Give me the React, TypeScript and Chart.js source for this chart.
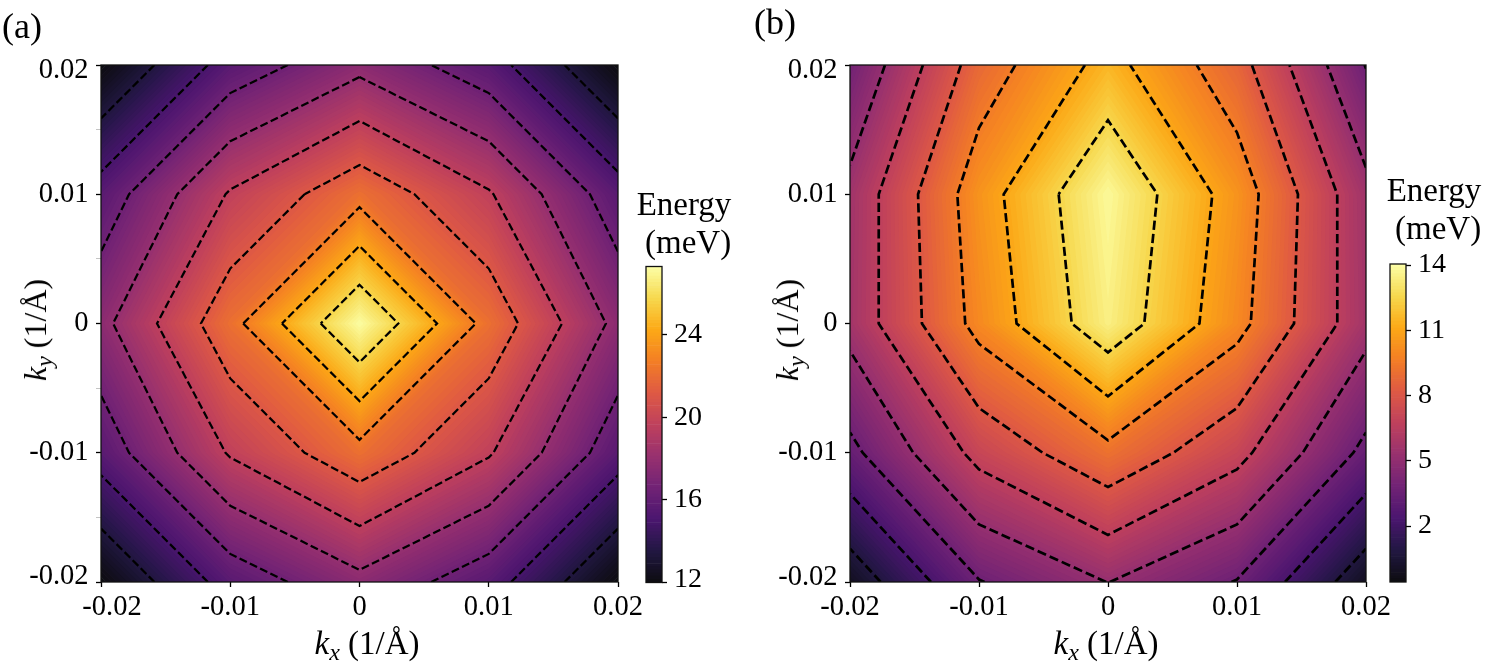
import React, { useEffect, useRef } from "react";
import { Chart, registerables } from "chart.js";

Chart.register(...registerables);

// Grid axes (1/Å)
const kxValues = [-0.02, -0.01, 0, 0.01, 0.02];
const kyValues = [-0.02, -0.01, 0, 0.01, 0.02];

// Panel (a) energy (meV), one row per ky, bottom to top
const energyA_kyM02 = [12, 15.7, 17.7, 15.7, 12];
const energyA_kyM01 = [15.7, 19.8, 22.2, 19.8, 15.7];
const energyA_ky00 = [17.7, 22.2, 27.3, 22.2, 17.7];
const energyA_kyP01 = [15.7, 19.8, 22.2, 19.8, 15.7];
const energyA_kyP02 = [12, 15.7, 17.7, 15.7, 12];

// Panel (b) energy (meV), one row per ky, bottom to top
const energyB_kyM02 = [0, 3.75, 5.3, 3.75, 0];
const energyB_kyM01 = [3.45, 7.18, 9.25, 7.18, 3.45];
const energyB_ky00 = [5.77, 10.13, 13.55, 10.13, 5.77];
const energyB_kyP01 = [5.67, 10.47, 13.9, 10.47, 5.67];
const energyB_kyP02 = [3.93, 8.9, 11.61, 8.78, 3.76];

const rangeA = [12, 27.3];
const rangeB = [-0.57, 14.05];
const cbarTicksA = [12, 16, 20, 24];
const cbarTicksB = [2, 5, 8, 11, 14];
const contourCount = 10;
const bandCount = 100;

// inferno colormap anchors
const inferno = [
  [0, 0, 4], [22, 11, 57], [66, 10, 104], [106, 23, 110], [147, 38, 103], [188, 55, 84],
  [221, 81, 58], [243, 120, 25], [252, 165, 10], [246, 215, 70], [252, 255, 164],
];
const FADE = 0.95;

const FONT = '"Liberation Serif", "Times New Roman", serif';

function colorAt(t: number) {
  const p = Math.max(0, Math.min(1, t)) * (inferno.length - 1);
  const i = Math.min(inferno.length - 2, Math.floor(p));
  const f = p - i;
  const c = inferno[i].map((v, k) => v + (inferno[i + 1][k] - v) * f);
  const m = c.map((v) => Math.round(v * FADE + 255 * (1 - FADE)));
  return `rgb(${m[0]},${m[1]},${m[2]})`;
}

function levelsOf(range: number[], n: number) {
  const out: number[] = [];
  for (let i = 0; i <= n; i++) out.push(range[0] + ((range[1] - range[0]) * i) / n);
  return out;
}

type Corner = { x: number; y: number; v: number };

function cellsOf(grid: number[][]) {
  const cells: Corner[][] = [];
  for (let j = 0; j < kyValues.length - 1; j++) {
    for (let i = 0; i < kxValues.length - 1; i++) {
      cells.push([
        { x: kxValues[i], y: kyValues[j], v: grid[j][i] },
        { x: kxValues[i + 1], y: kyValues[j], v: grid[j][i + 1] },
        { x: kxValues[i + 1], y: kyValues[j + 1], v: grid[j + 1][i + 1] },
        { x: kxValues[i], y: kyValues[j + 1], v: grid[j + 1][i] },
      ]);
    }
  }
  return cells;
}

function cross(a: Corner, b: Corner, l: number) {
  const f = (l - a.v) / (b.v - a.v);
  return { x: a.x + (b.x - a.x) * f, y: a.y + (b.y - a.y) * f };
}

function contourChains(grid: number[][], level: number) {
  const segs: { x: number; y: number }[][] = [];
  for (const cell of cellsOf(grid)) {
    const pts: { x: number; y: number }[] = [];
    for (let e = 0; e < 4; e++) {
      const a = cell[e];
      const b = cell[(e + 1) % 4];
      if (a.v < level !== b.v < level) pts.push(cross(a, b, level));
    }
    if (pts.length === 2) segs.push([pts[0], pts[1]]);
    else if (pts.length === 4) {
      segs.push([pts[0], pts[1]]);
      segs.push([pts[2], pts[3]]);
    }
  }
  const key = (p: { x: number; y: number }) => `${p.x.toFixed(7)},${p.y.toFixed(7)}`;
  const chains: { x: number; y: number }[][] = [];
  const left = segs.slice();
  while (left.length) {
    const chain = left.pop()!.slice();
    let grown = true;
    while (grown) {
      grown = false;
      for (let s = 0; s < left.length; s++) {
        const [p, q] = left[s];
        const tail = key(chain[chain.length - 1]);
        const head = key(chain[0]);
        if (key(p) === tail) chain.push(q);
        else if (key(q) === tail) chain.push(p);
        else if (key(p) === head) chain.unshift(q);
        else if (key(q) === head) chain.unshift(p);
        else continue;
        left.splice(s, 1);
        grown = true;
        break;
      }
    }
    chains.push(chain);
  }
  return chains;
}

function bandPath(cells: Corner[][], lo: number, hi: number, scales: any) {
  const path = new Path2D();
  for (const cell of cells) {
    const pts: { x: number; y: number }[] = [];
    for (let e = 0; e < 4; e++) {
      const p = cell[e];
      const q = cell[(e + 1) % 4];
      if (p.v >= lo && p.v < hi) pts.push(p);
      const seq = p.v < q.v ? [lo, hi] : [hi, lo];
      for (const l of seq) {
        if (Number.isFinite(l) && l > Math.min(p.v, q.v) && l < Math.max(p.v, q.v)) pts.push(cross(p, q, l));
      }
    }
    if (pts.length < 3) continue;
    pts.forEach((pt, i) => {
      const px = scales.x.getPixelForValue(pt.x);
      const py = scales.y.getPixelForValue(pt.y);
      if (i === 0) path.moveTo(px, py);
      else path.lineTo(px, py);
    });
    path.closePath();
  }
  return path;
}

const heatPlugin = {
  id: "heat",
  beforeDatasetsDraw(chart: any, _a: any, opts: any) {
    const { ctx, chartArea, scales } = chart;
    const levels = levelsOf(opts.range, bandCount);
    const cells = cellsOf(opts.grid);
    ctx.save();
    ctx.beginPath();
    ctx.rect(chartArea.left, chartArea.top, chartArea.right - chartArea.left, chartArea.bottom - chartArea.top);
    ctx.clip();
    // separate bands: their antialiased edges leave the faint seams of a filled contour plot
    for (let b = 0; b < bandCount; b++) {
      const lo = b === 0 ? -Infinity : levels[b];
      const hi = b === bandCount - 1 ? Infinity : levels[b + 1];
      ctx.fillStyle = colorAt((b + 0.5) / bandCount);
      ctx.fill(bandPath(cells, lo, hi, scales));
    }
    // stacked regions over them soften those seams
    ctx.globalAlpha = 0.6;
    for (let b = 0; b < bandCount; b++) {
      const lo = b === 0 ? -Infinity : levels[b];
      ctx.fillStyle = colorAt((b + 0.5) / bandCount);
      ctx.fill(bandPath(cells, lo, Infinity, scales));
    }
    ctx.restore();
  },
};

const framePlugin = {
  id: "frame",
  afterDraw(chart: any) {
    const { ctx, chartArea: c } = chart;
    ctx.save();
    ctx.strokeStyle = "#111";
    ctx.lineWidth = 1.3;
    ctx.strokeRect(c.left, c.top, c.right - c.left, c.bottom - c.top);
    ctx.restore();
  },
};

// Moves the labels at the ends of an axis, as in the reference.
const nudgePlugin = {
  id: "nudge",
  beforeDraw(chart: any, _a: any, opts: any) {
    for (const id of ["x", "y"]) {
      const scale = chart.scales[id];
      const shift = opts[id];
      if (!scale || !shift) continue;
      for (const item of scale.getLabelItems()) {
        const key = String(item.label);
        if (shift[key] === undefined || item.nudged) continue;
        item.options.translation[id === "x" ? 0 : 1] += shift[key];
        item.nudged = true;
      }
    }
  },
};

function tickLabel(v: number | string) {
  const n = Math.round(Number(v) * 1000) / 1000;
  const isMajor = Math.abs(n * 100 - Math.round(n * 100)) < 1e-6;
  return isMajor ? String(n) : "";
}

function heatConfig(grid: number[][], range: number[], box: number[], minorY: boolean, dash: number[], lw: number, nudge: any) {
  const levels = levelsOf(range, contourCount).slice(1, contourCount);
  const datasets: any[] = [];
  for (const l of levels) {
    for (const chain of contourChains(grid, l)) {
      datasets.push({
        data: chain,
        showLine: true,
        pointRadius: 0,
        borderColor: "#000",
        borderWidth: lw,
        borderDash: dash,
        borderJoinStyle: "miter",
        tension: 0,
      });
    }
  }
  const [padL, padR, padT, axisW, axisH] = box;
  const font = { family: FONT, size: 28.5 };
  return {
    type: "scatter",
    data: { datasets },
    plugins: [heatPlugin, framePlugin, nudgePlugin],
    options: {
      animation: false,
      responsive: false,
      devicePixelRatio: 1,
      layout: { autoPadding: false, padding: { left: padL, right: padR, top: padT, bottom: 0 } },
      plugins: { legend: { display: false }, tooltip: { enabled: false }, heat: { grid, range }, nudge },
      scales: {
        x: {
          type: "linear",
          min: kxValues[0],
          max: kxValues[kxValues.length - 1],
          afterFit: (s: any) => {
            s.height = axisH;
            s.paddingLeft = 0;
            s.paddingRight = 0;
          },
          ticks: { stepSize: 0.01, color: "#000", font, padding: 3, maxRotation: 0, autoSkip: false, callback: tickLabel },
          grid: { drawOnChartArea: false, drawTicks: true, tickLength: 5, tickColor: "#000", tickWidth: 1.3 },
          border: { display: false },
        },
        y: {
          type: "linear",
          min: kyValues[0],
          max: kyValues[kyValues.length - 1],
          afterFit: (s: any) => {
            s.width = axisW;
            s.paddingTop = 0;
            s.paddingBottom = 0;
          },
          ticks: {
            stepSize: minorY ? 0.005 : 0.01,
            color: "#000",
            font,
            padding: 7.5,
            autoSkip: false,
            callback: tickLabel,
          },
          grid: {
            drawOnChartArea: false,
            drawTicks: true,
            tickLength: 5,
            tickColor: (c: any) => (tickLabel(c.tick.value) === "" ? "#c4c4c4" : "#000"),
            tickWidth: (c: any) => (tickLabel(c.tick.value) === "" ? 1 : 1.3),
          },
          border: { display: false },
        },
      },
    },
  };
}

function cbarConfig(range: number[], ticks: number[], box: number[], nudge: any) {
  const levels = levelsOf(range, bandCount);
  const datasets = [];
  for (let b = 0; b < bandCount; b++) {
    datasets.push({
      data: [[levels[b], levels[b + 1]]],
      backgroundColor: colorAt((b + 0.5) / bandCount),
      borderWidth: 0,
      grouped: false,
      barPercentage: 1,
      categoryPercentage: 1,
    });
  }
  const [padL, padT, padB, axisW] = box;
  return {
    type: "bar",
    data: { labels: ["Energy"], datasets },
    plugins: [framePlugin, nudgePlugin],
    options: {
      animation: false,
      responsive: false,
      devicePixelRatio: 1,
      layout: { autoPadding: false, padding: { left: padL, right: 0, top: padT, bottom: padB } },
      plugins: { legend: { display: false }, tooltip: { enabled: false }, nudge },
      scales: {
        x: { display: false },
        y: {
          position: "right",
          min: range[0],
          max: range[1],
          afterBuildTicks: (s: any) => {
            s.ticks = ticks.map((value) => ({ value }));
          },
          afterFit: (s: any) => {
            s.width = axisW;
            s.paddingTop = 0;
            s.paddingBottom = 0;
          },
          ticks: { color: "#000", font: { family: FONT, size: 28 }, padding: 7, autoSkip: false },
          grid: { drawOnChartArea: false, drawTicks: true, tickLength: 5, tickColor: "#000", tickWidth: 1.3 },
          border: { display: false },
        },
      },
    },
  };
}

function ChartCanvas({ config, left, width }: { config: () => any; left: number; width: number }) {
  const ref = useRef<HTMLCanvasElement>(null);
  useEffect(() => {
    const chart = new Chart(ref.current!, config());
    return () => chart.destroy();
  }, []);
  return <canvas ref={ref} width={width} height={670} style={{ position: "absolute", left, top: 0, width, height: 670 }} />;
}

function Kx({ axis }: { axis: string }) {
  return (
    <>
      <i>k</i>
      <i style={{ fontSize: 24, position: "relative", top: 6 }}>{axis}</i>
      <span> (1/Å)</span>
    </>
  );
}

const textBase: React.CSSProperties = {
  position: "absolute",
  fontFamily: FONT,
  color: "#000",
  whiteSpace: "pre",
  lineHeight: 1,
};

function Label({ x, y, size, rotate, children }: { x: number; y: number; size: number; rotate?: boolean; children: React.ReactNode }) {
  return (
    <div style={{ ...textBase, left: x, top: y, fontSize: size, transform: `translate(-50%,-50%)${rotate ? " rotate(-90deg)" : ""}` }}>
      {children}
    </div>
  );
}

export default function App() {
  const gridA = [energyA_kyM02, energyA_kyM01, energyA_ky00, energyA_kyP01, energyA_kyP02];
  const gridB = [energyB_kyM02, energyB_kyM01, energyB_ky00, energyB_kyP01, energyB_kyP02];
  useEffect(() => {
    document.body.style.margin = "0";
  }, []);
  const nudgeA = { x: { "-0.02": 11 }, y: { "0.02": 5.5, "-0.02": -5.5 } };
  const nudgeB = { y: { "0.02": 5.5, "-0.02": -4 } };
  return (
    <div style={{ position: "absolute", left: 0, top: 0, width: 1491, height: 670, overflow: "hidden", background: "#fff" }}>
      <ChartCanvas left={0} width={650} config={() => heatConfig(gridA, rangeA, [0, 32, 65, 101, 88], true, [8, 3.4], 2.25, nudgeA)} />
      <ChartCanvas left={640} width={100} config={() => cbarConfig(rangeA, cbarTicksA, [6, 266.5, 87.5, 78], { y: { "12": -3 } })} />
      <ChartCanvas left={760} width={640} config={() => heatConfig(gridB, rangeB, [0, 34, 65, 90, 88], false, [9.2, 4], 2.7, nudgeB)} />
      <ChartCanvas left={1380} width={111} config={() => cbarConfig(rangeB, cbarTicksB, [10, 264, 88, 85], {})} />

      <Label x={22} y={26} size={36}>(a)</Label>
      <Label x={775} y={22} size={36}>(b)</Label>
      <Label x={367} y={643} size={33}><Kx axis="x" /></Label>
      <Label x={1106} y={643} size={33}><Kx axis="x" /></Label>
      <Label x={35} y={330} size={32} rotate><Kx axis="y" /></Label>
      <Label x={787} y={330} size={32} rotate><Kx axis="y" /></Label>
      <Label x={684} y={223} size={33}>
        <div style={{ textAlign: "center", lineHeight: "38px" }}>{"Energy\n (meV)"}</div>
      </Label>
      <Label x={1434} y={209} size={33}>
        <div style={{ textAlign: "center", lineHeight: "38px" }}>{"Energy\n (meV)"}</div>
      </Label>
    </div>
  );
}
